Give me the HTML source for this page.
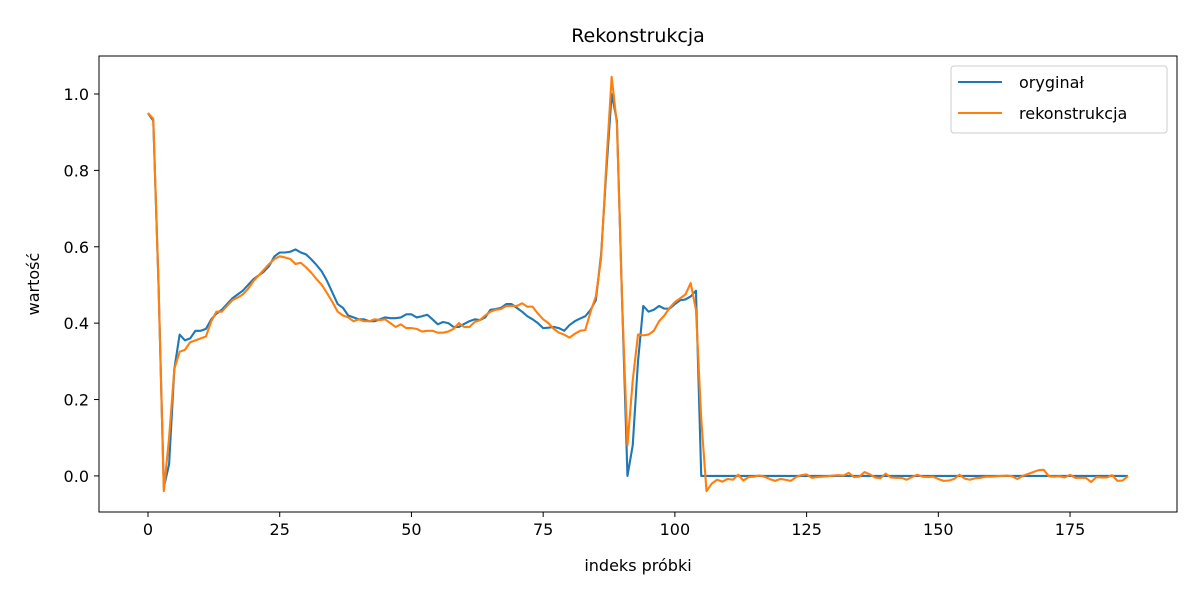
<!DOCTYPE html>
<html><head><meta charset="utf-8"><style>
body{margin:0;background:#fff}
svg{font-family:"DejaVu Sans","Liberation Sans",sans-serif}
</style></head><body>
<svg id="chart" width="1200" height="600" xmlns="http://www.w3.org/2000/svg">
<rect width="1200" height="600" fill="#fff"/>
<g id="plot"></g>
</svg>
<script>
const original=[0.95,0.93,0.5,-0.03,0.03,0.28,0.37,0.355,0.36,0.38,0.38,0.385,0.41,0.425,0.435,0.45,0.465,0.475,0.485,0.5,0.515,0.525,0.535,0.55,0.575,0.585,0.585,0.587,0.593,0.585,0.58,0.567,0.552,0.535,0.51,0.48,0.45,0.44,0.42,0.415,0.41,0.41,0.405,0.405,0.41,0.415,0.413,0.413,0.415,0.423,0.423,0.415,0.418,0.422,0.41,0.397,0.403,0.4,0.39,0.39,0.398,0.405,0.41,0.408,0.415,0.435,0.437,0.44,0.45,0.45,0.44,0.43,0.418,0.41,0.4,0.387,0.388,0.39,0.387,0.38,0.395,0.405,0.412,0.418,0.435,0.46,0.58,0.8,1.0,0.93,0.45,0.0,0.08,0.3,0.445,0.43,0.435,0.445,0.438,0.438,0.45,0.46,0.462,0.47,0.485,0.0,0,0,0,0,0,0,0,0,0,0,0,0,0,0,0,0,0,0,0,0,0,0,0,0,0,0,0,0,0,0,0,0,0,0,0,0,0,0,0,0,0,0,0,0,0,0,0,0,0,0,0,0,0,0,0,0,0,0,0,0,0,0,0,0,0,0,0,0,0,0,0,0,0,0,0,0,0,0,0,0,0];
const reconstruction=[0.95,0.935,0.5,-0.04,0.1,0.28,0.325,0.33,0.35,0.355,0.36,0.365,0.405,0.43,0.43,0.445,0.46,0.467,0.475,0.49,0.51,0.525,0.54,0.555,0.568,0.575,0.572,0.568,0.555,0.558,0.546,0.532,0.515,0.5,0.478,0.455,0.43,0.42,0.415,0.405,0.41,0.405,0.405,0.41,0.408,0.41,0.4,0.39,0.397,0.387,0.387,0.385,0.378,0.38,0.38,0.375,0.375,0.378,0.385,0.4,0.39,0.39,0.403,0.408,0.42,0.43,0.435,0.437,0.445,0.445,0.445,0.452,0.443,0.443,0.425,0.41,0.4,0.385,0.375,0.37,0.362,0.372,0.38,0.382,0.43,0.47,0.57,0.82,1.045,0.92,0.45,0.08,0.25,0.37,0.368,0.37,0.38,0.405,0.42,0.44,0.455,0.465,0.475,0.505,0.435,0.15,-0.04,-0.02,-0.01,-0.015,-0.008,-0.01,0.003,-0.012,-0.003,-0.002,0.001,-0.002,-0.008,-0.013,-0.008,-0.01,-0.013,-0.003,0.002,0.004,-0.005,-0.003,-0.002,-0.001,0.001,0.002,0.001,0.008,-0.003,-0.002,0.01,0.004,-0.004,-0.006,0.006,-0.004,-0.005,-0.005,-0.01,-0.003,0.003,-0.002,-0.003,-0.002,-0.008,-0.013,-0.012,-0.008,0.003,-0.007,-0.01,-0.006,-0.005,-0.002,-0.002,-0.001,0,0.001,-0.001,-0.008,0,0.005,0.01,0.015,0.016,-0.001,-0.002,-0.001,-0.004,0.003,-0.005,-0.005,-0.005,-0.016,-0.003,-0.004,-0.004,0.002,-0.013,-0.012,0.0];
const xTicks=[0,25,50,75,100,125,150,175];
const yTicks=[0.0,0.2,0.4,0.6,0.8,1.0];
const L=99,R=1177,T=56,B=512;
const xMin=-9.3,xMax=195.3,yMin=-0.0945,yMax=1.0995;
const xs=v=>L+(v-xMin)/(xMax-xMin)*(R-L);
const ys=v=>B-(v-yMin)/(yMax-yMin)*(B-T);
const NS="http://www.w3.org/2000/svg";
const g=document.getElementById('plot');
function mk(t,a,txt){const e=document.createElementNS(NS,t);for(const k in a)e.setAttribute(k,a[k]);if(txt!==undefined)e.textContent=txt;g.appendChild(e);return e;}
function line(arr,color,name){
  const d=arr.map((v,i)=>(i?'L':'M')+xs(i).toFixed(2)+' '+ys(v).toFixed(2)).join(' ');
  const p=mk('path',{d:d,fill:'none',stroke:color,'stroke-width':2.1,'stroke-linejoin':'round'});
  
  
}
xTicks.forEach(t=>{
  const x=xs(t);
  const tk=mk('line',{x1:x,x2:x,y1:B,y2:B+5,stroke:'#000','stroke-width':1});
  
  
  const lb=mk('text',{x:x,y:B+23,'text-anchor':'middle','font-size':16},String(t));
  
  
});
yTicks.forEach(t=>{
  const y=ys(t);
  const tk=mk('line',{x1:L-5,x2:L,y1:y,y2:y,stroke:'#000','stroke-width':1});
  
  
  const lb=mk('text',{x:L-10,y:y+6,'text-anchor':'end','font-size':16},t.toFixed(1));
  
  
});
line(original,'#1f77b4','series-original');
line(reconstruction,'#ff7f0e','series-reconstruction');
const fr=mk('rect',{x:L,y:T,width:R-L,height:B-T,fill:'none',stroke:'#000','stroke-width':1});


const ti=mk('text',{x:(L+R)/2,y:42,'text-anchor':'middle','font-size':19},'Rekonstrukcja');


const xt=mk('text',{x:(L+R)/2,y:571,'text-anchor':'middle','font-size':16},'indeks próbki');


const yt=mk('text',{x:39,y:284,'text-anchor':'middle','font-size':16,transform:'rotate(-90 39 284)'},'wartość');


const lg=mk('rect',{x:951,y:66,width:216,height:67,rx:3,fill:'#fff','fill-opacity':0.8,stroke:'#ccc','stroke-width':1});


[['oryginał','#1f77b4',82],['rekonstrukcja','#ff7f0e',113]].forEach(([n,c,y])=>{
  const l=mk('line',{x1:958,x2:1002,y1:y,y2:y,stroke:c,'stroke-width':2.1});
  
  
  const t=mk('text',{x:1019,y:y+6,'font-size':16},n);
  
  
});
</script>
</body></html>
